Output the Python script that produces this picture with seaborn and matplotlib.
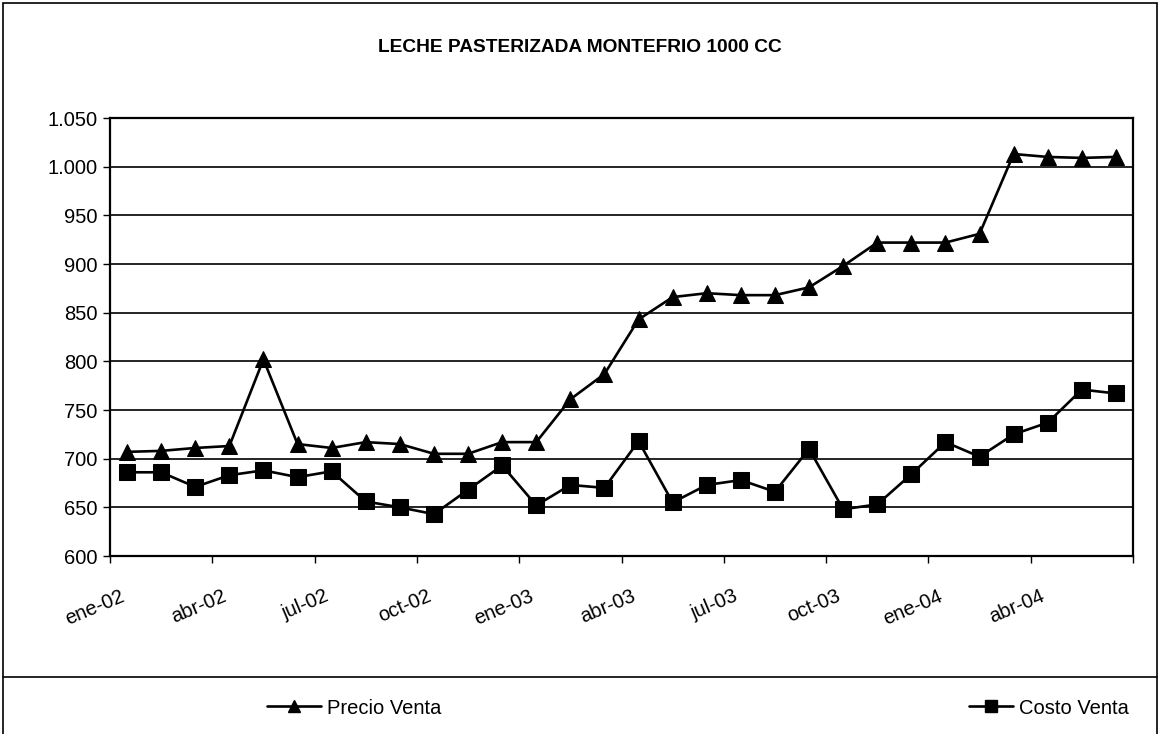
import numpy as np
import pandas as pd
import matplotlib.pyplot as plt
import seaborn as sns
from matplotlib.ticker import FuncFormatter, FixedLocator
from matplotlib.patches import Rectangle
from matplotlib.lines import Line2D

# Datos (ene-02 a jun-04)
meses = ['ene', 'feb', 'mar', 'abr', 'may', 'jun', 'jul', 'ago', 'sep', 'oct', 'nov', 'dic']
periodos = [f'{m}-{a}' for a in ['02', '03', '04'] for m in meses][:30]

precio_venta = [707, 708, 711, 713, 802, 715, 711, 717, 715, 705, 705, 717,
                717, 761, 787, 843, 866, 870, 868, 868, 876, 898, 922, 922,
                922, 931, 1013, 1010, 1009, 1010]
costo_venta = [686, 686, 671, 683, 688, 681, 687, 656, 650, 643, 668, 693,
               652, 673, 670, 718, 655, 673, 678, 666, 710, 648, 653, 684,
               717, 702, 725, 737, 771, 767]

df = pd.DataFrame({'periodo': periodos, 'idx': np.arange(len(periodos)),
                   'Precio Venta': precio_venta, 'Costo Venta': costo_venta})

sns.set_style('white')
plt.rcParams['font.family'] = ['Liberation Sans', 'DejaVu Sans']
plt.rcParams.update({'text.color': 'black', 'xtick.color': 'black', 'ytick.color': 'black',
                     'axes.labelcolor': 'black'})

fig = plt.figure(figsize=(11.6, 7.34), dpi=100)
ax = fig.add_axes([110 / 1160, 1 - 556 / 734, 1023 / 1160, 438 / 734])

sns.lineplot(data=df, x='idx', y='Precio Venta', ax=ax, color='black', lw=1.9,
             marker='^', markersize=11, markeredgecolor='black', markerfacecolor='black')
sns.lineplot(data=df, x='idx', y='Costo Venta', ax=ax, color='black', lw=1.9,
             marker='s', markersize=11, markeredgecolor='black', markerfacecolor='black')

# Ejes
ax.set_xlim(-0.5, len(periodos) - 0.5)
ax.set_ylim(600, 1050)
ax.set_yticks(np.arange(600, 1051, 50))
ax.yaxis.set_major_formatter(FuncFormatter(lambda v, p: f'{v:,.0f}'.replace(',', '.')))
ax.yaxis.grid(True, color='black', lw=1.2)
ax.set_axisbelow(True)
ax.set_xlabel('')
ax.set_ylabel('')

# Etiquetas cada 3 meses, marcas entre categorias
ax.xaxis.set_major_locator(FixedLocator(np.arange(0, len(periodos), 3)))
ax.set_xticklabels(periodos[::3], rotation=23, ha='right', fontsize=14.5)
ax.xaxis.set_minor_locator(FixedLocator(np.arange(-0.5, len(periodos), 3)))
ax.tick_params(axis='x', which='major', length=0, pad=22)
ax.tick_params(axis='x', which='minor', length=5, color='black', width=1)
ax.tick_params(axis='y', length=5, color='black', width=1, labelsize=14.5, pad=4)
ax.tick_params(left=True, bottom=True, which='both', direction='out')

for s in ax.spines.values():
    s.set_color('black')
    s.set_linewidth(1.6)

# Titulo
fig.text(0.5, 1 - 47 / 734, 'LECHE PASTERIZADA MONTEFRIO 1000 CC', ha='center', va='center',
         fontsize=13.8, fontweight='bold', color='black')

# Marco y separador de la leyenda
fig.add_artist(Rectangle((3 / 1160, -0.01), 1154 / 1160, 1.0 - 3 / 734 + 0.01,
                         transform=fig.transFigure, fill=False, edgecolor='black', lw=1.2))
fig.add_artist(Line2D([3 / 1160, 1157 / 1160], [1 - 677 / 734, 1 - 677 / 734],
                      transform=fig.transFigure, color='black', lw=1.2))

# Leyendas
h_precio = Line2D([], [], color='black', lw=1.9, marker='^', markersize=9)
h_costo = Line2D([], [], color='black', lw=1.9, marker='s', markersize=9)
ly = 1 - 708 / 734
fig.legend([h_precio], ['Precio Venta'], loc='center left', bbox_to_anchor=(267 / 1160, ly),
           frameon=False, fontsize=14.5, handlelength=2.7, handletextpad=0.3,
           borderpad=0, borderaxespad=0, labelcolor='black')
fig.legend([h_costo], ['Costo Venta'], loc='center right', bbox_to_anchor=(1129 / 1160, ly),
           frameon=False, fontsize=14.5, handlelength=2.2, handletextpad=0.3,
           borderpad=0, borderaxespad=0, labelcolor='black')

fig.savefig('out.png', dpi=100)
